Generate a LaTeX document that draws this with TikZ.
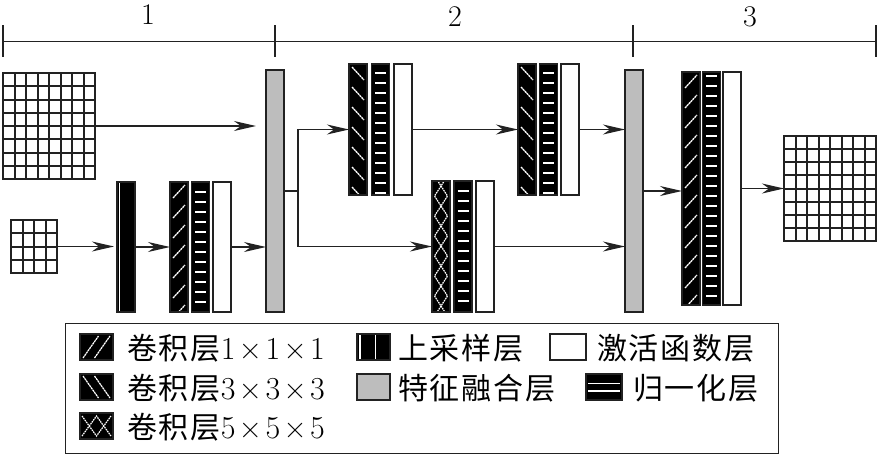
\documentclass[tikz,border=0pt]{standalone}
\usepackage{fontspec}
\newfontfamily\cjk[LetterSpace=6.0]{Noto Sans CJK SC}
\usetikzlibrary{arrows.meta,calc}
\definecolor{ln}{HTML}{222222}
\definecolor{fusegray}{HTML}{BDBDBD}
\tikzset{
  base/.style={draw=ln, line width=1.6pt, inner sep=0pt, outer sep=0pt, anchor=north west, minimum width=18pt},
  cvone/.style={base, fill=black, path picture={
     \foreach \k in {0,...,12}{
       \draw[white, line width=1.3pt, dash pattern=on 2.2pt off 0.6pt]
         ($(path picture bounding box.north west)+(3,16+20*\k)$) -- ++(12,-13);}}},
  cvthree/.style={base, fill=black, path picture={
     \foreach \k in {0,...,12}{
       \draw[white, line width=1.3pt, dash pattern=on 2.2pt off 0.6pt]
         ($(path picture bounding box.north west)+(3,3+20*\k)$) -- ++(12,13);}}},
  cvfive/.style={base, fill=black, path picture={
     \foreach \k in {0,...,4}{
       \draw[white, line width=1.2pt, dash pattern=on 1.6pt off 0.8pt]
         ($(path picture bounding box.north west)+(2.5,-5+40*\k)$) -- ++(13,20) -- ++(-13,20);
       \draw[white, line width=1.2pt, dash pattern=on 1.6pt off 0.8pt]
         ($(path picture bounding box.north west)+(15.5,-5+40*\k)$) -- ++(-13,20) -- ++(13,20);}}},
  normb/.style 2 args={base, fill=black, path picture={
     \foreach \k in {0,...,#2}{
       \draw[white, line width=2.6pt]
         ($(path picture bounding box.north west)+(3.5,#1+10*\k)$) -- ++(11,0);}}},
  actb/.style={base, fill=white},
  upb/.style={base, fill=black, path picture={
     \draw[white, line width=0.8pt]
       ($(path picture bounding box.north west)+(2.4,0)$) -- ($(path picture bounding box.south west)+(2.4,0)$);}},
  fuseb/.style={base, fill=fusegray},
  gridb/.style={draw=ln, line width=2pt, fill=white, inner sep=0pt, outer sep=0pt, anchor=north west},
  gl/.style={draw=ln, line width=2pt},
  conn/.style={draw=ln, line width=1.4pt},
  arr/.style={conn, -{Stealth[length=22pt, width=10pt, inset=7pt]}},
  brk/.style={draw=ln, line width=1.6pt},
  num/.style={font=\fontsize{30pt}{34pt}\selectfont, inner sep=0pt, anchor=base},
  lt/.style={font=\fontsize{30pt}{34pt}\selectfont, inner sep=0pt, anchor=base west},
  sw/.style={minimum width=33pt, minimum height=26pt, line width=1.4pt},
  lcvone/.style={base, sw, fill=black, path picture={
     \draw[white, line width=1.2pt, dash pattern=on 2.2pt off 0.6pt]
       ($(path picture bounding box.south west)+(3,-2)$) -- ($(path picture bounding box.north)+(2,2)$);
     \draw[white, line width=1.2pt, dash pattern=on 2.2pt off 0.6pt]
       ($(path picture bounding box.south)+(-2,-2)$) -- ($(path picture bounding box.north east)+(-3,2)$);}},
  lcvthree/.style={base, sw, fill=black, path picture={
     \draw[white, line width=1.2pt, dash pattern=on 2.2pt off 0.6pt]
       ($(path picture bounding box.north west)+(3,2)$) -- ($(path picture bounding box.south)+(2,-2)$);
     \draw[white, line width=1.2pt, dash pattern=on 2.2pt off 0.6pt]
       ($(path picture bounding box.north)+(-2,2)$) -- ($(path picture bounding box.south east)+(-3,-2)$);}},
  lcvfive/.style={base, sw, fill=black, path picture={
     \draw[white, line width=1.2pt, dash pattern=on 1.6pt off 0.8pt]
       ($(path picture bounding box.north west)+(2,3)$) -- ($(path picture bounding box.south)+(0,-3)$) -- ($(path picture bounding box.north east)+(-2,3)$);
     \draw[white, line width=1.2pt, dash pattern=on 1.6pt off 0.8pt]
       ($(path picture bounding box.south west)+(2,-3)$) -- ($(path picture bounding box.north)+(0,3)$) -- ($(path picture bounding box.south east)+(-2,-3)$);}},
  lupb/.style={base, sw, fill=black, path picture={
     \draw[white, line width=1.4pt]
       ($(path picture bounding box.north west)+(3,0)$) -- ($(path picture bounding box.south west)+(3,0)$);
     \draw[white, line width=1.4pt]
       ($(path picture bounding box.north west)!0.56!(path picture bounding box.north east)$) --
       ($(path picture bounding box.south west)!0.56!(path picture bounding box.south east)$);}},
  lfuseb/.style={base, sw, fill=fusegray},
  lactb/.style={base, sw, fill=white, minimum width=36pt},
  lnormb/.style={base, sw, fill=black, minimum width=36pt, path picture={
     \draw[white, line width=1.4pt]
       ($(path picture bounding box.north west)!0.36!(path picture bounding box.south west)+(2,0)$) --
       ($(path picture bounding box.north east)!0.36!(path picture bounding box.south east)+(-2,0)$);
     \draw[white, line width=1.4pt]
       ($(path picture bounding box.north west)!0.66!(path picture bounding box.south west)+(2,0)$) --
       ($(path picture bounding box.north east)!0.66!(path picture bounding box.south east)+(-2,0)$);}},
}
\newcommand\mygrid[2]{%
  \foreach \i in {1,...,#2}{%
    \draw[gl] ($(#1.north west)!{\i/(#2+1)}!(#1.north east)$) -- ($(#1.south west)!{\i/(#2+1)}!(#1.south east)$);
    \draw[gl] ($(#1.north west)!{\i/(#2+1)}!(#1.south west)$) -- ($(#1.north east)!{\i/(#2+1)}!(#1.south east)$);}}
\newcommand\dimsz[1]{{\fontsize{32pt}{34pt}\selectfont #1\hspace{3.5pt}×\hspace{3.5pt}#1\hspace{3.5pt}×\hspace{3.5pt}#1}}
\begin{document}
\begin{tikzpicture}[x=1pt,y=-1pt]
\useasboundingbox (0,0) rectangle (880,459);
% bracket
\coordinate (t0) at (3,41.5);
\coordinate (t1) at (275,41.5);
\coordinate (t2) at (633,41.5);
\coordinate (t3) at (876,41.5);
\draw[brk] (t0) -- (t3);
\foreach \t in {t0,t1,t2,t3}{\draw[brk] ($(\t)+(0,-16.5)$) -- ($(\t)+(0,15.5)$);}
\node[num] (n1) at (148,24) {1};
\node[num] (n2) at (455,26) {2};
\node[num] (n3) at (750,26) {3};
% inputs
\node[gridb, minimum width=92pt, minimum height=106pt] (gA) at (3,73) {};
\mygrid{gA}{7}
\node[gridb, minimum width=46pt, minimum height=53pt] (gB) at (11,220) {};
\mygrid{gB}{3}
% part 1
\node[upb, minimum height=130pt] (up1) at (117,182) {};
\node[cvone, minimum height=130pt] (c1a) at (170,182) {};
\node[normb={10}{11}, minimum height=130pt] (n1a) at (191.5,182) {};
\node[actb, minimum height=130pt] (a1a) at (213,182) {};
\node[fuseb, minimum height=242pt] (f1) at (266,70) {};
% part 2
\node[cvthree, minimum height=131pt] (c3a) at (349,64) {};
\node[normb={9}{12}, minimum height=131pt] (n3a) at (371.5,64) {};
\node[actb, minimum height=131pt] (a3a) at (394,64) {};
\node[cvthree, minimum height=131pt] (c3b) at (518,64) {};
\node[normb={9}{12}, minimum height=131pt] (n3b) at (539.5,64) {};
\node[actb, minimum height=131pt] (a3b) at (561,64) {};
\node[cvfive, minimum height=131pt] (c5) at (432,181) {};
\node[normb={10}{11}, minimum height=131pt] (n5) at (454,181) {};
\node[actb, minimum height=131pt] (a5) at (476,181) {};
\node[fuseb, minimum height=242pt] (f2) at (625,70) {};
% part 3
\node[cvone, minimum height=233pt] (c1b) at (682,72) {};
\node[normb={4}{22}, minimum height=233pt] (n1b) at (702.5,72) {};
\node[actb, minimum height=233pt] (a1b) at (723,72) {};
\node[gridb, minimum width=92pt, minimum height=105pt] (gC) at (784,136) {};
\mygrid{gC}{7}
% connectors
\draw[arr, shorten >=10pt] (gA.east) -- (gA.east -| f1.west);
\draw[arr, shorten >=3pt] (gB.east) -- (gB.east -| up1.west);
\draw[arr] (up1.east |- c1a.west) -- (c1a.west);
\draw[arr] (a1a.east) -- (a1a.east -| f1.west);
\coordinate (br) at (298,191);
\draw[conn] (f1.east |- br) -- (br);
\draw[arr] (br) |- (c3a.west);
\draw[arr] (br) |- (c5.west);
\draw[arr] (a3a.east) -- (c3b.west);
\draw[arr] (a3b.east) -- (a3b.east -| f2.west);
\draw[arr] (a5.east) -- (a5.east -| f2.west);
\draw[arr] (f2.east |- br) -- (f2.east |- br -| c1b.west);
\draw[arr] (a1b.east |- gC.west) -- (gC.west);
% legend
\node[draw=ln, line width=1.4pt, inner sep=0pt, anchor=north west, minimum width=713pt, minimum height=130pt] (leg) at (65,323) {};
\node[lcvone] (s1) at (80,334) {};
\node[lt] (l1) at (127,359) {{\cjk 卷积层}\dimsz{1}};
\node[lcvthree] (s2) at (80,374) {};
\node[lt] (l2) at (127,399) {{\cjk 卷积层}\dimsz{3}};
\node[lcvfive] (s3) at (80,413) {};
\node[lt] (l3) at (127,438) {{\cjk 卷积层}\dimsz{5}};
\node[lupb] (s4) at (357,334) {};
\node[lt] (l4) at (398,359) {\cjk 上采样层};
\node[lfuseb] (s5) at (357,374) {};
\node[lt] (l5) at (398,399) {\cjk 特征融合层};
\node[lactb] (s6) at (550,334) {};
\node[lt] (l6) at (597,359) {\cjk 激活函数层};
\node[lnormb] (s7) at (586,374) {};
\node[lt] (l7) at (633,399) {\cjk 归一化层};
\end{tikzpicture}
\end{document}
